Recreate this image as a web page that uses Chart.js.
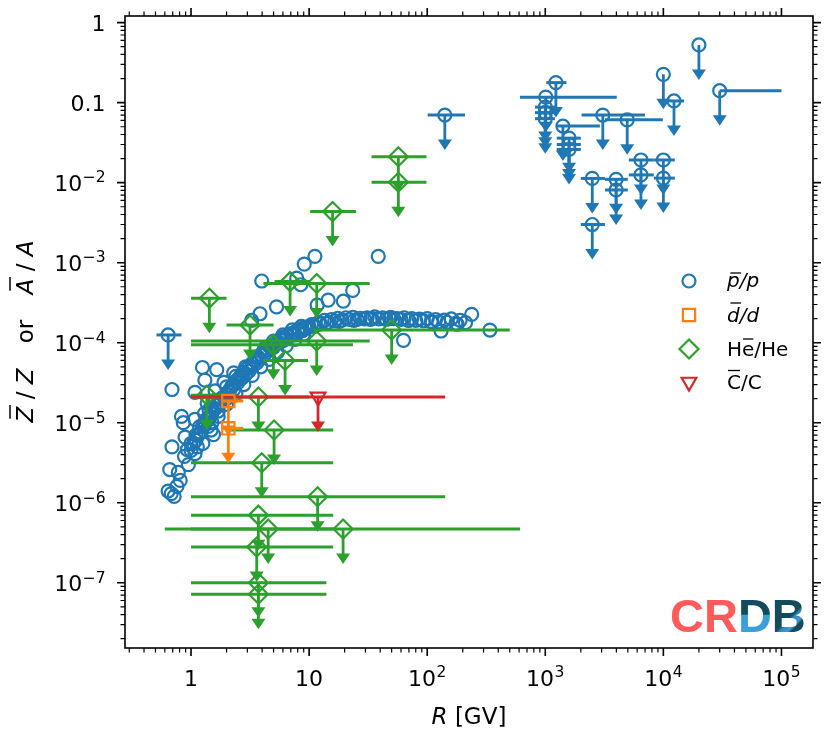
<!DOCTYPE html>
<html><head><meta charset="utf-8">
<script src="https://cdn.jsdelivr.net/npm/chart.js@4.4.1/dist/chart.umd.min.js"></script>
<style>html,body{margin:0;padding:0;background:#fff}</style>
</head><body>
<canvas id="c" width="830" height="738" style="width:830px;height:738px;display:block"></canvas>
<script>
// ---------- DATA ----------
// p̄/p measurements (older / scattered experiments)
const pbarOldR = [0.64,0.72,0.68,0.66,0.81,0.76,0.95,0.69,0.89,0.88,0.83,0.86,1.08,1.08,0.69,1.25,1.65,1.31,1.0,1.13,
  1.26,1.08,1.18,1.42,1.48,1.55,1.37,1.42,0.78,0.93,3.97,7.85,8.5,9.1,11.2,38.5,5.3,3.84,3.26,14.5,
  19.5,23.4,11.7,63,131,238,340,190,1.6,1.9,2.3];
const pbarOldV = [1.4e-6,1.2e-6,1.3e-6,2.6e-6,1.9e-6,1.6e-6,3.0e-6,5.0e-6,6.6e-6,3.8e-6,1.2e-5,1.0e-5,1.1e-5,2.4e-5,2.6e-5,4.9e-5,4.6e-5,3.4e-5,5.5e-6,5.0e-6,
  5.5e-6,4.1e-6,8.9e-6,1.1e-5,8.1e-6,7.1e-6,1.75e-5,1.45e-5,2.4e-6,4.6e-6,5.9e-4,6.4e-4,5.3e-4,9.6e-4,1.2e-3,1.2e-3,2.8e-4,2.3e-4,1.9e-4,3.4e-4,
  3.3e-4,4.5e-4,2.95e-4,1.07e-4,1.4e-4,2.26e-4,1.44e-4,1.9e-4,2.5e-5,3.2e-5,4.2e-5];
// p̄/p measurements (precise experiments forming the main band)
const pbarBandR = [1.0,1.1,1.2,1.3,1.45,1.6,1.75,1.9,2.1,2.3,2.5,2.8,3.1,3.5,3.9,4.4,5.0,5.7,6.5,7.5,8.7,10,
  1.5,1.7,2.0,2.3,2.7,3.1,3.6,4.2,5.0,6.0,7.2,8.8,11,14,18,24,33,48,70,110,180,
  1.1,1.3,1.5,1.8,2.1,2.5,2.9,3.3,3.8,4.3,4.9,5.6,6.4,7.3,8.3,9.5,11,12.5,14.5,16.5,19,22,25.5,29.5,34,39,45,52,60,69,80,93,108,125,147,175,211];
const pbarBandV = [4.5e-6,6.0e-6,7.5e-6,9.5e-6,1.2e-5,1.5e-5,1.8e-5,2.1e-5,2.5e-5,3.0e-5,3.5e-5,4.3e-5,5.0e-5,6.0e-5,7.0e-5,8.2e-5,9.5e-5,1.1e-4,1.22e-4,1.35e-4,1.5e-4,1.6e-4,
  1.0e-5,1.4e-5,2.0e-5,2.6e-5,3.6e-5,4.4e-5,5.6e-5,7.2e-5,8.8e-5,1.06e-4,1.25e-4,1.42e-4,1.6e-4,1.75e-4,1.85e-4,1.9e-4,1.95e-4,2.0e-4,1.9e-4,1.8e-4,1.7e-4,
  7.0e-6,1.0e-5,1.3e-5,1.8e-5,2.4e-5,3.2e-5,4.0e-5,5.0e-5,6.2e-5,7.5e-5,8.7e-5,1.0e-4,1.12e-4,1.25e-4,1.38e-4,1.5e-4,1.62e-4,1.72e-4,1.8e-4,1.87e-4,1.92e-4,1.95e-4,1.96e-4,1.98e-4,2.0e-4,1.98e-4,1.96e-4,2.0e-4,1.95e-4,1.92e-4,1.9e-4,1.88e-4,1.85e-4,1.82e-4,1.8e-4,1.75e-4,1.78e-4];
// p̄/p measurements (further experiments in the band)
const pbarBand2R = [1.05,1.15,1.25,1.35,1.5,1.65,1.8,2.0,2.2,2.4,2.65,2.95,3.3,3.7,4.1,4.6,5.3,6.1,7.0,8.0,9.2,10.5,12,13.5,15.5,17.5,20.5,23.5,27,31,36,42,49,56,64,74,86,100,118,140,160,
  1.4,1.7,2.0,2.4,2.8,3.3,3.9,4.6,5.4,6.4,7.6,9.0,
  1.3,1.6,2.0,2.4,2.9,3.5,4.2,5.0,6.0,7.2,8.6];
const pbarBand2V = [5.5e-6,7.0e-6,9.0e-6,1.1e-5,1.35e-5,1.65e-5,2.0e-5,2.3e-5,2.8e-5,3.3e-5,3.9e-5,4.7e-5,5.5e-5,6.6e-5,7.8e-5,9.0e-5,1.02e-4,1.18e-4,1.3e-4,1.45e-4,1.55e-4,1.68e-4,1.78e-4,1.9e-4,1.95e-4,2.02e-4,2.05e-4,2.08e-4,2.02e-4,2.05e-4,2.1e-4,2.05e-4,2.08e-4,2.0e-4,2.05e-4,2.0e-4,1.97e-4,2.0e-4,1.95e-4,1.92e-4,1.98e-4,
  9.0e-6,1.2e-5,1.7e-5,2.3e-5,3.0e-5,3.9e-5,5.0e-5,6.2e-5,7.6e-5,9.2e-5,1.1e-4,1.28e-4,
  1.3e-5,1.9e-5,2.8e-5,3.8e-5,5.0e-5,6.6e-5,8.5e-5,1.05e-4,1.25e-4,1.45e-4,1.6e-4];
// p̄/p upper limits (value, rigidity range)
const pbarLimR  = [0.64,141,1010,1230,1000,1000,1000,1410,1590,1590,1590,3070,4940,6460,10000,6460,10000,2500,3980,3980,2500,20000,10000,30000,12300];
const pbarLimV  = [1.25e-4,0.070,0.117,0.178,0.088,0.075,0.063,0.051,0.036,0.030,0.026,0.070,0.061,0.0192,0.0192,0.0125,0.0114,0.0113,0.0110,0.0081,0.0030,0.526,0.226,0.141,0.105];
const pbarLimLo = [0.51,101,611,1020,818,818,818,1240,1250,1250,1250,2030,3200,5100,8300,5100,8300,2000,3200,3200,2000,null,null,30000,11000];
const pbarLimHi = [0.83,209,4030,1510,1208,1208,1208,2900,2000,2000,2000,6980,9900,8300,12500,8300,12500,3200,5000,5000,3200,null,null,100000,15000];
// d̄/d upper limits
const dbarLimR  = [2.07,2.07];
const dbarLimV  = [1.87e-5,8.5e-6];
const dbarLimLo = [1.82,1.82];
const dbarLimHi = [2.77,2.77];
// He̅/He upper limits
const heLimR  = [1.43,6.9,11.6,3.16,4.98,50,11.6,6.26,1.36,3.72,5.05,3.97,11.8,3.72,19.4,4.5,3.6,3.72,3.72,57,57,15.8];
const heLimV  = [3.6e-4,5.8e-4,5.5e-4,1.66e-4,9.4e-5,1.44e-4,1.05e-4,6.0e-5,2.2e-5,2.1e-5,8.1e-6,3.16e-6,1.19e-6,7.0e-7,4.7e-7,4.7e-7,2.8e-7,1.0e-7,7.2e-8,0.0211,0.0101,4.35e-3];
const heLimLo = [1.0,5.1,4.1,2.0,1.0,10.8,1.0,4.1,1.0,1.0,2.0,1.0,1.0,1.0,0.6,1.0,1.0,1.0,1.0,33.8,33.8,10.2];
const heLimHi = [2.0,10.2,32.6,5.0,23.5,500,32.6,9.8,2.14,10,16,16,142,16,611,16,16,14,14,98.6,98.6,25];
// C̄/C upper limit
const cbarLimR  = [11.9];
const cbarLimV  = [2.1e-5];
const cbarLimLo = [1.0];
const cbarLimHi = [142];
// axis ticks
const xMajor = [1,10,100,1e3,1e4,1e5];
const xTickBase = ['1','10','10','10','10','10'];
const xTickExp  = ['','','2','3','4','5'];
const yMajor = [1,0.1,1e-2,1e-3,1e-4,1e-5,1e-6,1e-7];
const yTickBase = ['1','0.1','10','10','10','10','10','10'];
const yTickExp  = ['','','\u22122','\u22123','\u22124','\u22125','\u22126','\u22127'];

// ---------- STYLE ----------
const BLUE='#1f77b4', ORANGE='#ff7f0e', GREEN='#2ca02c', RED='#d62728';
const FONT='"DejaVu Sans", "Noto Sans", sans-serif';
const pts = (xs, ys) => xs.map((x, i) => ({x: x, y: ys[i]}));

function mkSet(label, xs, ys, color, style, radius, order, lo, hi, rot) {
  return {label, data: pts(xs, ys), showLine: false, order,
    pointStyle: style, pointRadius: radius, pointHoverRadius: radius, pointRotation: rot || 0,
    borderColor: color, pointBorderColor: color, backgroundColor: 'rgba(0,0,0,0)', pointBackgroundColor: 'rgba(0,0,0,0)',
    borderWidth: 2.2, pointBorderWidth: 2.2, limLo: lo, limHi: hi, limColor: color};
}

const datasets = [
  mkSet('pbar', pbarOldR.concat(pbarBandR, pbarBand2R), pbarOldV.concat(pbarBandV, pbarBand2V), BLUE, 'circle', 6.5, 6),
  mkSet('pbarLim', pbarLimR, pbarLimV, BLUE, 'circle', 6.5, 5, pbarLimLo, pbarLimHi),
  mkSet('heLim', heLimR, heLimV, GREEN, 'rectRot', 9.5, 4, heLimLo, heLimHi),
  mkSet('cbarLim', cbarLimR, cbarLimV, RED, 'triangle', 8.5, 3, cbarLimLo, cbarLimHi, 180),
  mkSet('dbarLim', dbarLimR, dbarLimV, ORANGE, 'rect', 8.7, 2, dbarLimLo, dbarLimHi)
];

function drawArrow(ctx, x, y, color) {
  const L = 35;
  ctx.strokeStyle = color; ctx.fillStyle = color; ctx.lineWidth = 2.8;
  ctx.beginPath(); ctx.moveTo(x, y); ctx.lineTo(x, y + L - 9); ctx.stroke();
  ctx.beginPath(); ctx.moveTo(x - 7, y + L - 10.5); ctx.lineTo(x + 7, y + L - 10.5); ctx.lineTo(x, y + L); ctx.closePath(); ctx.fill();
}

function rich(ctx, parts, x, y, align, size) {
  const fontOf = p => (p.it ? 'italic ' : '') + size + 'px ' + FONT;
  const w = parts.map(p => { ctx.font = fontOf(p); return ctx.measureText(p.t).width; });
  const total = w.reduce((a, b) => a + b, 0);
  let cx = align === 'center' ? x - total / 2 : (align === 'right' ? x - total : x);
  ctx.textAlign = 'left'; ctx.textBaseline = 'alphabetic';
  parts.forEach((p, i) => {
    ctx.font = fontOf(p); ctx.fillText(p.t, cx, y);
    if (p.bar) {
      const sk = p.it ? size * 0.12 : 0;
      ctx.lineWidth = Math.max(1.2, size * 0.065);
      ctx.beginPath(); ctx.moveTo(cx + 1 + sk, y - p.bar); ctx.lineTo(cx + w[i] - 1 + sk, y - p.bar); ctx.stroke();
    }
    cx += w[i];
  });
}

function powLabel(ctx, base, exp, x, y, align) {
  ctx.font = '22px ' + FONT; const wb = ctx.measureText(base).width;
  let we = 0;
  if (exp) { ctx.font = '15.5px ' + FONT; we = ctx.measureText(exp).width + 0.5; }
  const total = wb + we;
  const x0 = align === 'center' ? x - total / 2 : x - total;
  ctx.textAlign = 'left'; ctx.textBaseline = 'alphabetic';
  ctx.font = '22px ' + FONT; ctx.fillText(base, x0, y);
  if (exp) { ctx.font = '15.5px ' + FONT; ctx.fillText(exp, x0 + wb + 0.5, y - 8.7); }
}

function legendMarker(ctx, style, x, y, color) {
  ctx.strokeStyle = color; ctx.lineWidth = 2.2; ctx.beginPath();
  if (style === 'circle') { ctx.arc(x, y, 6.5, 0, Math.PI * 2); }
  else if (style === 'rect') { ctx.rect(x - 6.1, y - 6.1, 12.2, 12.2); }
  else if (style === 'diamond') { ctx.moveTo(x, y - 9.5); ctx.lineTo(x + 9.5, y); ctx.lineTo(x, y + 9.5); ctx.lineTo(x - 9.5, y); ctx.closePath(); }
  else { const r = 8.5; ctx.moveTo(x - r * 0.866, y - r * 0.5); ctx.lineTo(x + r * 0.866, y - r * 0.5); ctx.lineTo(x, y + r); ctx.closePath(); }
  ctx.stroke();
}

const deco = {
  id: 'deco',
  beforeDatasetDraw(chart, args) {
    const ds = chart.data.datasets[args.index];
    if (!ds.limLo) return;
    const ctx = chart.ctx, ca = chart.chartArea, xs = chart.scales.x, ys = chart.scales.y;
    ctx.save();
    ctx.beginPath(); ctx.rect(ca.left, ca.top, ca.width, ca.height); ctx.clip();
    ds.data.forEach((p, i) => {
      const px = xs.getPixelForValue(p.x), py = ys.getPixelForValue(p.y);
      const lo = ds.limLo[i], hi = ds.limHi[i];
      if (lo !== null && hi !== null) {
        ctx.strokeStyle = ds.limColor; ctx.lineWidth = 3;
        ctx.beginPath(); ctx.moveTo(xs.getPixelForValue(lo), py); ctx.lineTo(xs.getPixelForValue(hi), py); ctx.stroke();
      }
      drawArrow(ctx, px, py, ds.limColor);
    });
    ctx.restore();
  },
  afterDraw(chart) {
    const ctx = chart.ctx, ca = chart.chartArea, xs = chart.scales.x, ys = chart.scales.y;
    ctx.save();
    ctx.strokeStyle = '#000'; ctx.fillStyle = '#000';
    // frame
    ctx.lineWidth = 1.6; ctx.strokeRect(ca.left, ca.top, ca.width, ca.height);
    // x ticks
    for (let e = -1; e <= 5; e++) {
      for (let k = 1; k <= 9; k++) {
        const v = k * Math.pow(10, e);
        if (v < xs.min || v > xs.max) continue;
        const px = xs.getPixelForValue(v), L = k === 1 ? 8 : 4.5;
        ctx.lineWidth = k === 1 ? 1.6 : 1.2;
        ctx.beginPath(); ctx.moveTo(px, ca.bottom); ctx.lineTo(px, ca.bottom + L);
        ctx.moveTo(px, ca.top); ctx.lineTo(px, ca.top - L); ctx.stroke();
      }
    }
    // y ticks
    for (let e = -9; e <= 0; e++) {
      for (let k = 1; k <= 9; k++) {
        const v = k * Math.pow(10, e);
        if (v < ys.min || v > ys.max) continue;
        const py = ys.getPixelForValue(v), L = k === 1 ? 8 : 4.5;
        ctx.lineWidth = k === 1 ? 1.6 : 1.2;
        ctx.beginPath(); ctx.moveTo(ca.left, py); ctx.lineTo(ca.left - L, py);
        ctx.moveTo(ca.right, py); ctx.lineTo(ca.right + L, py); ctx.stroke();
      }
    }
    // tick labels
    xMajor.forEach((v, i) => powLabel(ctx, xTickBase[i], xTickExp[i], xs.getPixelForValue(v), ca.bottom + 37.5, 'center'));
    yMajor.forEach((v, i) => powLabel(ctx, yTickBase[i], yTickExp[i], ca.left - 19.5, ys.getPixelForValue(v) + 8.5, 'right'));
    // axis titles
    rich(ctx, [{t: 'R', it: true}, {t: ' [GV]'}], (ca.left + ca.right) / 2, 724, 'center', 23);
    ctx.save();
    ctx.translate(33, (ca.top + ca.bottom) / 2); ctx.rotate(-Math.PI / 2);
    rich(ctx, [{t: 'Z', it: true, bar: 23}, {t: ' / '}, {t: 'Z', it: true}], -63.5, 0, 'center', 23);
    rich(ctx, [{t: 'or'}], 0.5, 0, 'center', 23);
    rich(ctx, [{t: 'A', it: true, bar: 23}, {t: ' / '}, {t: 'A', it: true}], 64.5, 0, 'center', 23);
    ctx.restore();
    // legend
    const rows = [281, 315, 349, 382];
    legendMarker(ctx, 'circle', 689, rows[0], BLUE);
    legendMarker(ctx, 'rect', 689, rows[1], ORANGE);
    legendMarker(ctx, 'diamond', 689, rows[2], GREEN);
    legendMarker(ctx, 'tri', 689, rows[3], RED);
    ctx.strokeStyle = '#000'; ctx.fillStyle = '#000';
    rich(ctx, [{t: 'p', it: true, bar: 14}, {t: '/p', it: true}], 727, rows[0] + 6, 'left', 20);
    rich(ctx, [{t: 'd', it: true, bar: 19}, {t: '/d', it: true}], 727, rows[1] + 7, 'left', 20);
    rich(ctx, [{t: 'H'}, {t: 'e', bar: 17}, {t: '/He'}], 727, rows[2] + 7, 'left', 20);
    rich(ctx, [{t: 'C', bar: 18.5}, {t: '/C'}], 727, rows[3] + 7, 'left', 20);
    // CRDB logo
    ctx.font = 'bold 47px "Liberation Sans", Arial, sans-serif';
    ctx.textAlign = 'left'; ctx.textBaseline = 'alphabetic';
    const lx = 670, ly = 632;
    ctx.fillStyle = '#ff5a5c'; ctx.fillText('CR', lx, ly);
    const wCR = ctx.measureText('CR').width, wD = ctx.measureText('D').width;
    let g = ctx.createLinearGradient(0, ly - 34, 0, ly);
    g.addColorStop(0, '#134a5c'); g.addColorStop(0.48, '#134a5c'); g.addColorStop(0.5, '#3b9fda'); g.addColorStop(1, '#3b9fda');
    ctx.fillStyle = g; ctx.fillText('D', lx + wCR, ly);
    g = ctx.createLinearGradient(lx + wCR + wD, ly - 34, lx + wCR + wD + 34, ly);
    g.addColorStop(0, '#134a5c'); g.addColorStop(0.55, '#134a5c'); g.addColorStop(0.6, '#2f86b8'); g.addColorStop(0.72, '#3b9fda'); g.addColorStop(0.78, '#134a5c'); g.addColorStop(1, '#134a5c');
    ctx.fillStyle = g; ctx.fillText('B', lx + wCR + wD, ly);
    ctx.restore();
  }
};

new Chart(document.getElementById('c'), {
  type: 'scatter',
  data: {datasets},
  options: {
    responsive: false, animation: false,
    layout: {padding: {left: 125, right: 17, top: 16, bottom: 90}},
    plugins: {legend: {display: false}, tooltip: {enabled: false}},
    scales: {
      x: {type: 'logarithmic', min: 0.276, max: 1.85e5, bounds: 'data', display: false},
      y: {type: 'logarithmic', min: 1.53e-8, max: 1.21, bounds: 'data', display: false}
    }
  },
  plugins: [deco]
});
</script>
</body></html>
